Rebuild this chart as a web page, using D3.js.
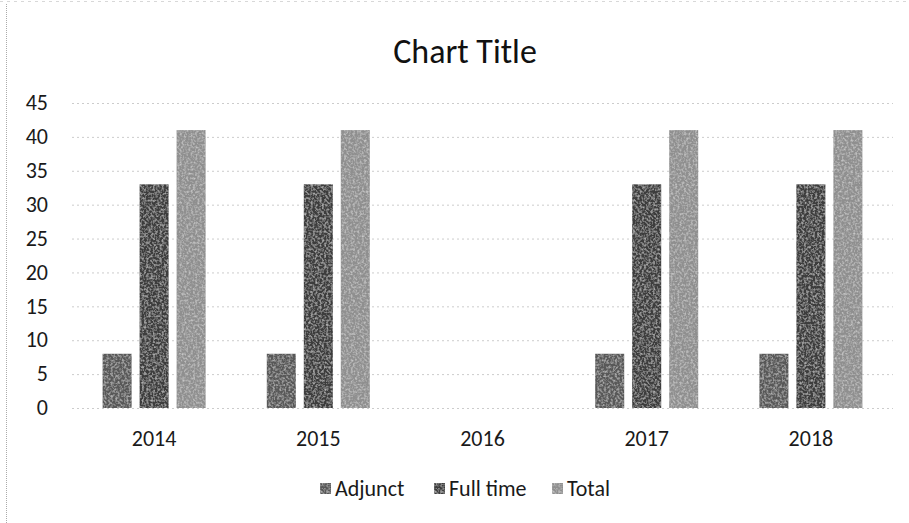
<!DOCTYPE html>
<html>
<head>
<meta charset="utf-8">
<script src="https://cdn.jsdelivr.net/npm/d3@7"></script>
<style>
    body { margin: 0; background: #fff; }
    svg { display: block; font-family: Carlito, Lato, "Open Sans", sans-serif; }
</style>
</head>
<body>
<script>
// Data
let years = ["2014", "2015", "2016", "2017", "2018"];
let seriesNames = ["Adjunct", "Full time", "Total"];
let adjunct = [8, 8, 0, 8, 8];
let fullTime = [33, 33, 0, 33, 33];
let total = [41, 41, 0, 41, 41];
let yTicks = [0, 5, 10, 15, 20, 25, 30, 35, 40, 45];

let seriesValues = [adjunct, fullTime, total];
let colors = ["#585858", "#3c3c3c", "#8f8f8f"];

let width = 909, height = 523;
let plot = { left: 72, right: 893, top: 103, bottom: 408 };

let svg = d3.select("body")
    .append("svg")
    .attr("width", width)
    .attr("height", height);

// grainy texture like the scanned original
let defs = svg.append("defs");
let grain = defs.append("filter").attr("id", "grain").attr("x", 0).attr("y", 0).attr("width", 1).attr("height", 1);
grain.append("feTurbulence").attr("type", "fractalNoise").attr("baseFrequency", 0.45).attr("numOctaves", 2).attr("seed", 3).attr("result", "noise");
grain.append("feColorMatrix").attr("in", "noise").attr("type", "matrix")
    .attr("values", "0 0 0 0 1  0 0 0 0 1  0 0 0 0 1  0.9 0 0 0 -0.38").attr("result", "spots");
grain.append("feComposite").attr("in", "spots").attr("in2", "SourceGraphic").attr("operator", "in").attr("result", "clipped");
grain.append("feMerge").selectAll("feMergeNode").data(["SourceGraphic", "clipped"]).enter()
    .append("feMergeNode").attr("in", d => d);

// Frame edges of the scan
svg.append("line")
    .attr("x1", 6.5).attr("x2", 6.5).attr("y1", 4).attr("y2", height)
    .attr("stroke", "#aaa").attr("stroke-dasharray", "1,1");
svg.append("line")
    .attr("x1", 0).attr("x2", width).attr("y1", 1.5).attr("y2", 1.5)
    .attr("stroke", "#d8d8d8").attr("stroke-dasharray", "3,4");

// Scales
let x = d3.scaleBand()
    .domain(years)
    .range([plot.left, plot.right]);

let groupWidth = 103;
let xInner = d3.scaleBand()
    .domain(seriesNames)
    .range([0, groupWidth])
    .paddingInner(0.216);

let y = d3.scaleLinear()
    .domain([0, 45])
    .range([plot.bottom, plot.top]);

// Gridlines
svg.append("g")
    .selectAll("line")
    .data(yTicks)
    .enter()
    .append("line")
    .attr("x1", plot.left)
    .attr("x2", plot.right)
    .attr("y1", d => y(d) + 0.5)
    .attr("y2", d => y(d) + 0.5)
    .attr("stroke", "#cccccc")
    .attr("stroke-dasharray", "2,3");

// Bars
let groups = svg.append("g")
    .selectAll("g")
    .data(seriesNames)
    .enter()
    .append("g")
    .attr("fill", (d, i) => colors[i]);

groups.selectAll("rect")
    .data((name, i) => years.map((yr, j) => ({ year: yr, value: seriesValues[i][j], name })))
    .enter()
    .filter(d => d.value > 0)
    .append("rect")
    .attr("x", d => x(d.year) + (x.bandwidth() - groupWidth) / 2 + xInner(d.name))
    .attr("y", d => y(d.value))
    .attr("width", xInner.bandwidth())
    .attr("height", d => y(0) - y(d.value))
    .attr("filter", "url(#grain)");

// Y axis labels
svg.append("g")
    .selectAll("text")
    .data(yTicks)
    .enter()
    .append("text")
    .attr("x", 48)
    .attr("y", d => y(d))
    .attr("dy", "0.33em")
    .attr("text-anchor", "end")
    .attr("font-size", 22)
    .attr("fill", "#1a1a1a")
    .text(d => d);

// X axis labels
svg.append("g")
    .selectAll("text")
    .data(years)
    .enter()
    .append("text")
    .attr("x", d => x(d) + x.bandwidth() / 2)
    .attr("y", 446)
    .attr("text-anchor", "middle")
    .attr("font-size", 22)
    .attr("fill", "#1a1a1a")
    .text(d => d);

// Title
svg.append("text")
    .attr("x", 465)
    .attr("y", 63)
    .attr("text-anchor", "middle")
    .attr("font-size", 34)
    .attr("fill", "#111")
    .text("Chart Title");

// Legend
let legendX = [320, 434, 552];
let legend = svg.append("g")
    .selectAll("g")
    .data(seriesNames)
    .enter()
    .append("g")
    .attr("transform", (d, i) => `translate(${legendX[i]}, 489)`);

legend.append("rect")
    .attr("x", 0)
    .attr("y", -6)
    .attr("width", 11)
    .attr("height", 11)
    .attr("fill", (d, i) => colors[i])
    .attr("filter", "url(#grain)");

legend.append("text")
    .attr("x", 15)
    .attr("y", 0)
    .attr("dy", "0.33em")
    .attr("font-size", 22)
    .attr("fill", "#1a1a1a")
    .text(d => d);
</script>
</body>
</html>
